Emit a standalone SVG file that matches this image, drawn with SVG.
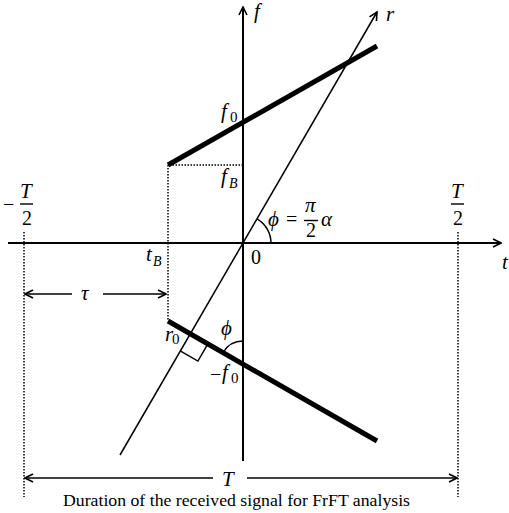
<svg xmlns="http://www.w3.org/2000/svg" width="509" height="513" viewBox="0 0 509 513">
<style>
.ax{stroke:#000;stroke-width:2;fill:none}
.thin{stroke:#000;stroke-width:1.5;fill:none}
.thick{stroke:#000;stroke-width:5;fill:none}
.dot{stroke:#000;stroke-width:1.5;stroke-dasharray:1.5,1.5;fill:none}
.m{font-family:"Liberation Serif",serif;font-style:italic;font-size:21px;fill:#000}
.n{font-family:"Liberation Serif",serif;font-size:20px;fill:#000}
.s{font-family:"Liberation Serif",serif;font-style:italic;font-size:14px;fill:#000}
.sn{font-family:"Liberation Serif",serif;font-size:15px;fill:#000}
.cap{font-family:"Liberation Serif",serif;font-size:17px;fill:#000}
</style>
<defs>
<marker id="ah" viewBox="0 0 10 10" refX="9" refY="5" markerWidth="10" markerHeight="10" markerUnits="userSpaceOnUse" orient="auto-start-reverse">
<path d="M1,1 L9,5 L1,9" fill="none" stroke="#000" stroke-width="1.6"/>
</marker>
</defs>
<g id="axes">
<line class="ax" x1="8" y1="243" x2="501" y2="243" marker-end="url(#ah)"/>
<line class="ax" x1="243" y1="461" x2="243" y2="7" marker-end="url(#ah)"/>
<line class="thin" x1="120" y1="455" x2="377" y2="12" marker-end="url(#ah)"/>
</g>
<g id="guides">
<polyline class="dot" points="243,165 168,165 168,321"/>
<line class="dot" x1="24" y1="232" x2="24" y2="497"/>
<line class="dot" x1="458" y1="232" x2="458" y2="497"/>
</g>
<g id="chirps">
<line class="thick" x1="168" y1="165" x2="377" y2="46"/>
<line class="thick" x1="168" y1="321" x2="377" y2="441"/>
</g>
<g id="angles">
<path class="thin" d="M271,243 A28,28 0 0 0 257,218.8"/>
<path class="thin" d="M243,341 A23,23 0 0 0 223.1,352.5"/>
<polyline class="thin" points="180.6,351.1 197.9,361.1 207.9,343.8"/>
</g>
<g id="connectors">
<line class="thin" x1="25" y1="294" x2="72" y2="294" marker-start="url(#ah)"/>
<line class="thin" x1="103" y1="294" x2="166" y2="294" marker-end="url(#ah)"/>
<line class="thin" x1="25" y1="478" x2="213" y2="478" marker-start="url(#ah)"/>
<line class="thin" x1="247" y1="478" x2="457" y2="478" marker-end="url(#ah)"/>
</g>
<g id="labels">
<text class="m" x="254" y="18">f</text>
<text class="m" x="386" y="21">r</text>
<text class="m" x="502" y="269">t</text>
<text class="m" x="221" y="118">f</text><text class="sn" x="230" y="122">0</text>
<text class="m" x="221" y="183">f</text><text class="s" x="229" y="188">B</text>
<text class="m" x="146" y="261">t</text><text class="s" x="153" y="266">B</text>
<text class="n" x="251" y="264">0</text>
<text class="m" x="268" y="226">ϕ</text>
<text class="n" x="286" y="226">=</text>
<text class="m" x="305" y="212">π</text>
<line x1="304" y1="220.5" x2="318" y2="220.5" stroke="#000" stroke-width="1.4"/>
<text class="n" x="306" y="237">2</text>
<text class="m" x="321" y="226">α</text>
<text class="n" x="3" y="211">−</text>
<text class="m" x="20" y="198">T</text>
<line x1="20" y1="204" x2="33" y2="204" stroke="#000" stroke-width="1.4"/>
<text class="n" x="22" y="225">2</text>
<text class="m" x="451" y="198">T</text>
<line x1="451" y1="204" x2="464" y2="204" stroke="#000" stroke-width="1.4"/>
<text class="n" x="453" y="225">2</text>
<text class="m" x="81" y="300">τ</text>
<text class="m" x="165" y="341">r</text><text class="sn" x="172" y="344">0</text>
<text class="m" x="221" y="335">ϕ</text>
<text class="n" x="210" y="381">−</text><text class="m" x="222" y="379">f</text><text class="sn" x="231" y="383">0</text>
<text class="m" x="222" y="486">T</text>
<text class="cap" x="63" y="506" textLength="347" lengthAdjust="spacingAndGlyphs">Duration of the received signal for FrFT analysis</text>
</g>
</svg>
